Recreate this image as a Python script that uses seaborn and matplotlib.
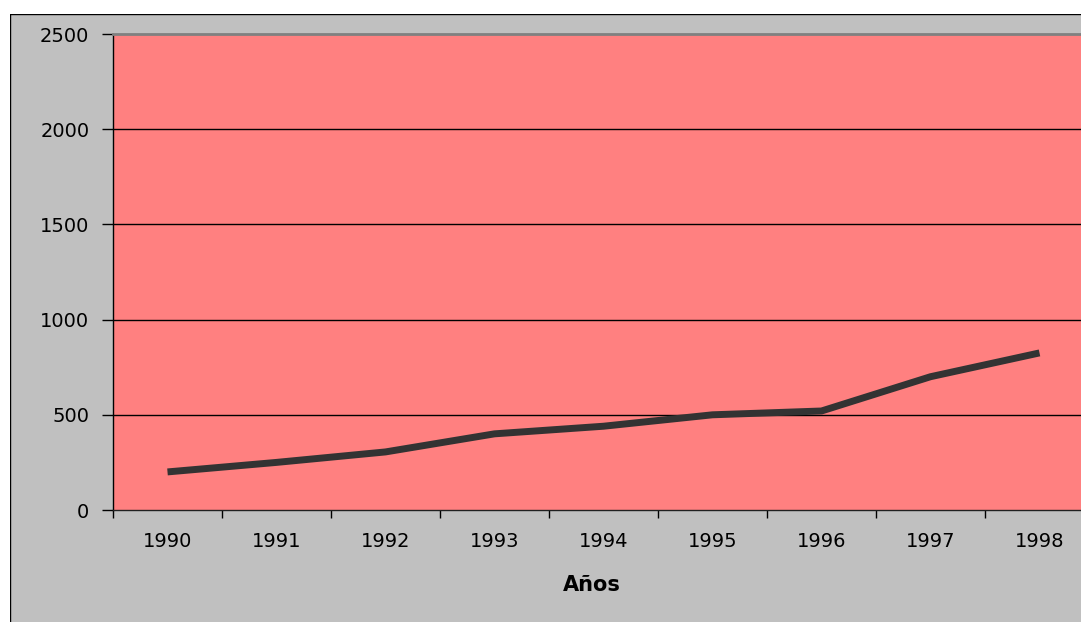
import matplotlib.pyplot as plt
import matplotlib.patches as mpatches
import matplotlib.lines as mlines
import pandas as pd
import seaborn as sns

# Data.
years = ['1990', '1991', '1992', '1993', '1994', '1995', '1996', '1997', '1998']
values = [200, 250, 305, 400, 440, 500, 520, 700, 825]
y_ticks = [0, 500, 1000, 1500, 2000, 2500]

data_df = pd.DataFrame({'Años': years, 'Valor': values})

W, H = 1081, 622
sns.set_theme(style='white')
plt.rcParams['font.family'] = ['DejaVu Sans']

fig = plt.figure(figsize=(W / 100, H / 100), dpi=100)
fig.patch.set_facecolor('#C0C0C0')

# White margin on the left and top, black border of the chart area.
fig.patches.append(mpatches.Rectangle(
    (0, 0), 9.5 / W, 1, transform=fig.transFigure,
    facecolor='white', edgecolor='none', zorder=-1))
fig.patches.append(mpatches.Rectangle(
    (0, 1 - 13.5 / H), 1, 13.5 / H, transform=fig.transFigure,
    facecolor='white', edgecolor='none', zorder=-1))
fig.lines.append(mlines.Line2D([9.5 / W, 9.5 / W], [0, 1 - 13.5 / H],
                               transform=fig.transFigure, color='black',
                               linewidth=1, zorder=-1))
fig.lines.append(mlines.Line2D([9.5 / W, 1], [1 - 13.5 / H, 1 - 13.5 / H],
                               transform=fig.transFigure, color='black',
                               linewidth=1, zorder=-1))

ax = fig.add_axes([113 / W, 1 - 510 / H, 981 / W, 476 / H])
ax.set_facecolor('#FF8080')

sns.lineplot(data=data_df, x='Años', y='Valor', ax=ax, color='#333333',
             linewidth=5, solid_capstyle='butt', zorder=3)

ax.set_xlim(-0.5, len(years) - 0.5)
ax.set_ylim(0, 2500)

# Category labels at the centres, tick marks at the boundaries.
ax.set_xticks(range(len(years)))
ax.set_xticklabels(years, fontsize=14, color='black')
ax.set_xticks([i - 0.5 for i in range(len(years) + 1)], minor=True)
ax.tick_params(axis='x', which='major', length=0, pad=16, colors='black')
ax.tick_params(axis='x', which='minor', length=6, width=1, color='black',
               direction='out', bottom=True)

ax.set_yticks(y_ticks)
ax.set_yticklabels([str(v) for v in y_ticks], fontsize=14, color='black')
ax.tick_params(axis='y', length=8, width=1, color='black', direction='out',
               left=True, pad=9, colors='black')

for v in y_ticks[1:-1]:
    ax.axhline(v, color='black', linewidth=1, zorder=1)

ax.spines['left'].set_color('black')
ax.spines['left'].set_linewidth(1)
ax.spines['bottom'].set_color('#202020')
ax.spines['bottom'].set_linewidth(1)
ax.spines['top'].set_color('#808080')
ax.spines['top'].set_linewidth(2)
ax.spines['right'].set_visible(False)

ax.set_ylabel('')
ax.set_xlabel('Años', fontsize=15, fontweight='bold', color='black')
ax.xaxis.set_label_coords((592 - 113) / 981, -(585 - 510) / 476)
ax.xaxis.label.set_va('center')

plt.savefig('out.png', dpi=100, facecolor=fig.get_facecolor())
